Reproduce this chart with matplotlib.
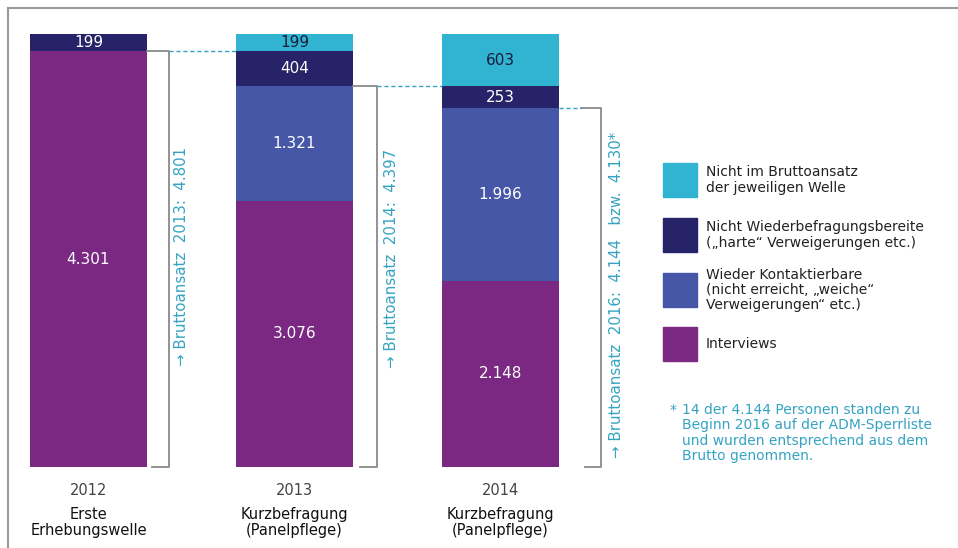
import matplotlib.pyplot as plt
from matplotlib.patches import Rectangle

# data
years = ['2012', '2013', '2014']
waves = ['Erste\nErhebungswelle', 'Kurzbefragung\n(Panelpflege)', 'Kurzbefragung\n(Panelpflege)']
series = ['Interviews', 'Wieder Kontaktierbare', 'Nicht Wiederbefragungsbereite', 'Nicht im Bruttoansatz']
# drawn segment heights, bottom to top (2012 interview bar is drawn at brutto height)
interviews = [4801, 3076, 2148]
kontaktierbar = [0, 1321, 1996]
verweigerer = [199, 404, 253]
nicht_brutto = [0, 199, 603]
# printed labels
lab_interviews = ['4.301', '3.076', '2.148']
lab_kontakt = ['', '1.321', '1.996']
lab_verweigerer = ['199', '404', '253']
lab_nicht = ['', '199', '603']
brutto_levels = [4801, 4397, 4144]
brutto_texts = ['\u2192 Bruttoansatz  2013:  4.801', '\u2192 Bruttoansatz  2014:  4.397',
                '\u2192 Bruttoansatz  2016:  4.144   bzw.  4.130*']

legend_labels = ['Nicht im Bruttoansatz\nder jeweiligen Welle',
                 'Nicht Wiederbefragungsbereite\n(\u201eharte\u201c Verweigerungen etc.)',
                 'Wieder Kontaktierbare\n(nicht erreicht, \u201eweiche\u201c\nVerweigerungen\u201c etc.)',
                 'Interviews']
footnote = ('14 der 4.144 Personen standen zu\nBeginn 2016 auf der ADM-Sperrliste\n'
            'und wurden entsprechend aus dem\nBrutto genommen.')

c_purple = '#7a2882'
c_blue = '#4557a6'
c_navy = '#262368'
c_cyan = '#30b4d2'
c_teal = '#35a3c2'
c_gray = '#8a8a8a'

fig = plt.figure(figsize=(9.58, 5.48), dpi=100)
ax = fig.add_axes([0, 0, 1, 1])
# 1 unit in x = 206 px, 1 value = 0.0866 px
ax.set_xlim(-0.4296, 4.2209)
ax.set_ylim(-935.3, 5392.6)
ax.axis('off')

x = [0, 1, 2]
w = 0.568
segs = [(interviews, lab_interviews, c_purple, 'white'),
        (kontaktierbar, lab_kontakt, c_blue, 'white'),
        (verweigerer, lab_verweigerer, c_navy, 'white'),
        (nicht_brutto, lab_nicht, c_cyan, '#1a1a3a')]
bottom = [0, 0, 0]
for vals, labs, col, tcol in segs:
    ax.bar(x, vals, w, bottom=bottom, color=col, edgecolor='none')
    for i in range(3):
        if vals[i] > 0:
            ax.text(x[i], bottom[i] + vals[i] / 2, labs[i], ha='center', va='center',
                    color=tcol, fontsize=11)
    bottom = [b + v for b, v in zip(bottom, vals)]

# brackets and dashed connectors
br_x = [0.39, 1.40, 2.49]
start_x = [0.284, 1.284, 2.39]
for i in range(3):
    lvl = brutto_levels[i]
    ax.plot([start_x[i], br_x[i], br_x[i], br_x[i] - 0.08], [lvl, lvl, 0, 0],
            color=c_gray, lw=1.3, solid_joinstyle='round')
ax.plot([0.39, 0.716], [4801, 4801], color=c_teal, lw=1, ls=(0, (3, 2)))
ax.plot([1.40, 1.716], [4397, 4397], color=c_teal, lw=1, ls=(0, (3, 2)))
ax.plot([2.284, 2.39], [4144, 4144], color=c_teal, lw=1, ls=(0, (3, 2)))

tx = [0.45, 1.47, 2.565]
ty = [1166, 1143, 104]
for i in range(3):
    ax.text(tx[i], ty[i], brutto_texts[i], rotation=90, rotation_mode='anchor',
            ha='left', va='center', color=c_teal, fontsize=10.8)

# x labels
for i in range(3):
    ax.text(x[i], -270, years[i], ha='center', va='center', color='#444444', fontsize=10.5)
    ax.text(x[i], -640, waves[i], ha='center', va='center', color='#111111', fontsize=10.5,
            linespacing=1.15)

# legend
leg_cols = [c_cyan, c_navy, c_blue, c_purple]
leg_y = [180, 235, 290, 344]
for col, lab, py in zip(leg_cols, legend_labels, leg_y):
    fig.patches.append(Rectangle(((663) / 958, 1 - (py + 17) / 548), 34 / 958, 34 / 548,
                                 transform=fig.transFigure, color=col))
    fig.text(706 / 958, 1 - py / 548, lab, ha='left', va='center', fontsize=10,
             color='#222222', linespacing=1.1)

fig.text(670 / 958, 1 - 410 / 548, '*', ha='left', va='center', color=c_teal, fontsize=10)
fig.text(682 / 958, 1 - 433 / 548, footnote, ha='left', va='center', color=c_teal,
         fontsize=10, linespacing=1.1)

# frame
fig.add_artist(plt.Line2D([8 / 958, 1], [1 - 8 / 548, 1 - 8 / 548], color='#999999', lw=1.5,
                          transform=fig.transFigure))
fig.add_artist(plt.Line2D([8 / 958, 8 / 958], [0, 1 - 8 / 548], color='#999999', lw=1.5,
                          transform=fig.transFigure))

fig.savefig('out.png', dpi=100)
